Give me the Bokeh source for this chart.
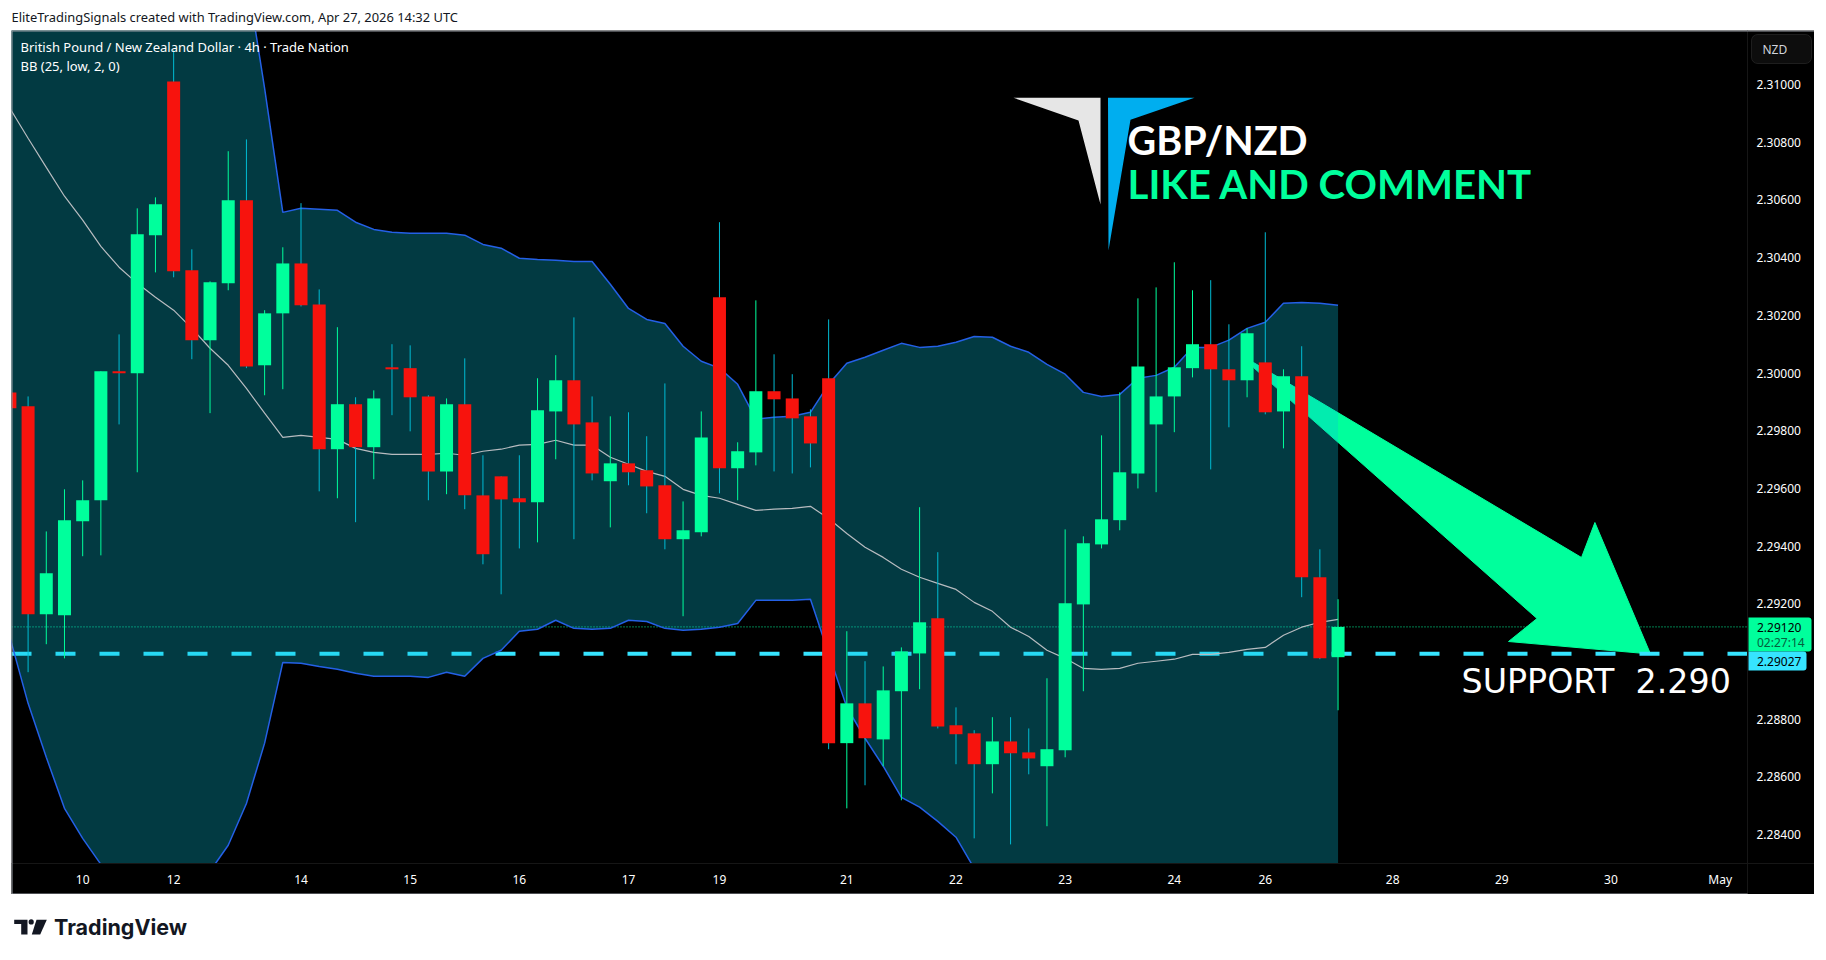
from bokeh.plotting import figure
from bokeh.layouts import column
from bokeh.models import BoxAnnotation, Label, FixedTicker, ColumnDataSource, NumeralTickFormatter
from bokeh.embed import file_html
from bokeh.resources import INLINE

# ---------------- data ----------------
bar_open = [2.29933,2.29885,2.29164,2.29160,2.29486,2.29559,2.30006,2.29999,2.30478,2.31011,2.30356,2.30114,2.30311,2.30599,2.30027,2.30207,2.30380,2.30238,2.29736,2.29892,2.29743,2.30020,2.30017,2.29919,2.29659,2.29892,2.29576,2.29642,2.29566,2.29552,2.29867,2.29975,2.29829,2.29625,2.29687,2.29663,2.29611,2.29424,2.29448,2.30263,2.29670,2.29725,2.29937,2.29912,2.29850,2.29982,2.28717,2.28855,2.28730,2.28897,2.29028,2.29150,2.28779,2.28751,2.28644,2.28723,2.28685,2.28637,2.28692,2.29198,2.29406,2.29490,2.29652,2.29822,2.29919,2.30017,2.30100,2.30013,2.29975,2.30037,2.29867,2.29989,2.29292,2.29015]
bar_high = [2.29933,2.29919,2.29451,2.29597,2.29628,2.30006,2.30134,2.30571,2.30609,2.31119,2.30429,2.30318,2.30769,2.30810,2.30218,2.30436,2.30589,2.30290,2.30159,2.29916,2.29940,2.30100,2.30096,2.29923,2.29912,2.30051,2.29715,2.29642,2.29715,2.29982,2.30062,2.30193,2.29919,2.29850,2.29864,2.29781,2.29964,2.29555,2.29867,2.30523,2.29760,2.30252,2.30065,2.29996,2.29874,2.30186,2.29105,2.29001,2.28983,2.29049,2.29535,2.29379,2.28841,2.28762,2.28807,2.28807,2.28768,2.28942,2.29458,2.29434,2.29784,2.29933,2.30259,2.30297,2.30384,2.30287,2.30322,2.30169,2.30155,2.30488,2.30013,2.30093,2.29389,2.29216]
bar_low = [2.29878,2.28963,2.29060,2.29011,2.29365,2.29368,2.29822,2.29656,2.30349,2.30332,2.30048,2.29861,2.30287,2.30017,2.29923,2.29944,2.30231,2.29590,2.29566,2.29483,2.29632,2.29854,2.29798,2.29559,2.29580,2.29528,2.29337,2.29233,2.29392,2.29413,2.29701,2.29424,2.29628,2.29465,2.29611,2.29514,2.29389,2.29157,2.29434,2.29583,2.29559,2.29680,2.29659,2.29652,2.29673,2.28696,2.28491,2.28571,2.28637,2.28519,2.28904,2.28768,2.28644,2.28387,2.28543,2.28366,2.28609,2.28429,2.28668,2.28897,2.29392,2.29455,2.29600,2.29587,2.29795,2.29985,2.29666,2.29812,2.29916,2.29857,2.29739,2.29223,2.29008,2.28831]
bar_close = [2.29878,2.29164,2.29306,2.29490,2.29559,2.30006,2.29999,2.30481,2.30585,2.30353,2.30114,2.30315,2.30599,2.30023,2.30207,2.30380,2.30235,2.29736,2.29892,2.29743,2.29912,2.30013,2.29916,2.29659,2.29892,2.29576,2.29372,2.29562,2.29552,2.29871,2.29975,2.29822,2.29652,2.29687,2.29656,2.29607,2.29424,2.29455,2.29777,2.29670,2.29729,2.29937,2.29909,2.29843,2.29756,2.28717,2.28855,2.28734,2.28900,2.29035,2.29136,2.28775,2.28748,2.28644,2.28723,2.28682,2.28664,2.28696,2.29202,2.29410,2.29493,2.29656,2.30023,2.29919,2.30020,2.30100,2.30013,2.29975,2.30138,2.29864,2.29989,2.29292,2.29011,2.29120]

bb_upper = [2.32752,2.32773,2.32759,2.32762,2.32672,2.32610,2.32509,2.32433,2.32353,2.32256,2.32097,2.31899,2.31691,2.31386,2.30987,2.30557,2.30571,2.30568,2.30564,2.30523,2.30498,2.30488,2.30485,2.30485,2.30485,2.30478,2.30446,2.30433,2.30398,2.30394,2.30391,2.30387,2.30387,2.30308,2.30224,2.30186,2.30172,2.30093,2.30041,2.30017,2.29961,2.29840,2.29847,2.29850,2.29864,2.29961,2.30034,2.30055,2.30079,2.30103,2.30089,2.30093,2.30107,2.30127,2.30124,2.30093,2.30072,2.30030,2.29996,2.29933,2.29919,2.29926,2.29982,2.29992,2.30020,2.30089,2.30089,2.30114,2.30155,2.30176,2.30242,2.30245,2.30242,2.30235]
bb_basis = [2.30918,2.30814,2.30713,2.30613,2.30530,2.30439,2.30367,2.30311,2.30263,2.30218,2.30155,2.30086,2.30027,2.29947,2.29861,2.29777,2.29784,2.29777,2.29770,2.29739,2.29725,2.29718,2.29718,2.29718,2.29722,2.29715,2.29729,2.29736,2.29750,2.29753,2.29767,2.29750,2.29750,2.29708,2.29684,2.29659,2.29642,2.29597,2.29576,2.29566,2.29545,2.29524,2.29528,2.29531,2.29538,2.29496,2.29444,2.29396,2.29361,2.29320,2.29292,2.29271,2.29250,2.29205,2.29174,2.29119,2.29087,2.29039,2.29011,2.28976,2.28973,2.28976,2.28994,2.29001,2.29008,2.29025,2.29025,2.29032,2.29042,2.29049,2.29091,2.29119,2.29136,2.29146]
bb_lower = [2.29084,2.28855,2.28668,2.28491,2.28387,2.28297,2.28224,2.28190,2.28172,2.28179,2.28214,2.28273,2.28363,2.28508,2.28717,2.28997,2.28994,2.28983,2.28973,2.28959,2.28949,2.28949,2.28949,2.28945,2.28963,2.28949,2.29011,2.29039,2.29105,2.29112,2.29143,2.29115,2.29112,2.29115,2.29143,2.29139,2.29115,2.29108,2.29112,2.29119,2.29132,2.29212,2.29212,2.29212,2.29216,2.29028,2.28841,2.28734,2.28637,2.28529,2.28495,2.28446,2.28391,2.28283,2.28224,2.28144,2.28103,2.28047,2.28027,2.28020,2.28027,2.28023,2.28006,2.28009,2.27995,2.27961,2.27961,2.27950,2.27930,2.27923,2.27940,2.27992,2.28030,2.28058]

last_price = 2.29120
support_price = 2.29027
price_ticks = [2.284,2.286,2.288,2.292,2.294,2.296,2.298,2.300,2.302,2.304,2.306,2.308,2.310]
day_tick_bars = [4,9,16,22,28,34,39,46,52,58,64,69,76,82,88,94]
day_tick_labels = ["10","12","14","15","16","17","19","21","22","23","24","26","28","29","30","May"]

# ---------------- styling ----------------
UP = "#00ff9c"; DOWN = "#f7130d"; WICK_DOWN = "#00bcd4"
FONT = "Noto Sans"
FIG_X, FIG_Y = 11, 30      # page position of the main figure
BAR_X0, BAR_STEP = 9.4, 18.194
PX_PER_PRICE = 28846.0

def dx(px):   # page pixel -> bar index (for drawn annotations)
    return (px - BAR_X0) / BAR_STEP
def dy(py):
    return 2.31 - (py - 84.1) / PX_PER_PRICE

bars = list(range(len(bar_open)))
up = [c >= o for o, c in zip(bar_open, bar_close)]
src = ColumnDataSource(dict(
    x=bars, top=[max(o, c) for o, c in zip(bar_open, bar_close)],
    bottom=[min(o, c) for o, c in zip(bar_open, bar_close)],
    high=bar_high, low=bar_low,
    fill=[UP if u else DOWN for u in up],
    wick=[UP if u else WICK_DOWN for u in up]))

x_start, x_axis_at, x_end = dx(11), dx(1747), dx(1814)
p = figure(width=1803, height=864, output_backend="svg", toolbar_location=None,
           x_range=(x_start, x_end), y_range=(dy(894), dy(30)),
           background_fill_color="#000000", border_fill_color="#000000",
           min_border=0, x_axis_location="below", y_axis_location="right")
p.margin = (0, 0, 0, 3)
p.grid.visible = False
p.outline_line_color = None

xa = p.xaxis[0]
xa.fixed_location = dy(863)
xa.ticker = FixedTicker(ticks=day_tick_bars)
xa.major_label_overrides = dict(zip(day_tick_bars, day_tick_labels))
xa.major_label_text_color = "#ffffff"
xa.major_label_text_font = FONT
xa.major_label_text_font_size = "12px"
xa.major_tick_line_color = None
xa.minor_tick_line_color = None
xa.axis_line_color = "#161616"
xa.major_label_standoff = 1

ya = p.yaxis[0]
ya.fixed_location = x_axis_at
ya.ticker = FixedTicker(ticks=price_ticks)
ya.formatter = NumeralTickFormatter(format="0.00000")
ya.major_label_text_color = "#ffffff"
ya.major_label_text_font = FONT
ya.major_label_text_font_size = "12px"
ya.major_tick_line_color = None
ya.minor_tick_line_color = None
ya.axis_line_color = "#161616"
ya.major_label_standoff = 3

# drawing underneath the band (the band tints it)
arrow_x = [1253, 1581, 1594.4, 1650, 1508, 1536.5, 1253]
arrow_y = [362, 557, 522, 653.5, 641, 618, 367]
p.patch([dx(v) for v in arrow_x], [dy(v) for v in arrow_y], fill_color=UP, line_color=UP, line_width=1)
p.line([x_start, x_axis_at], [support_price, support_price], line_color="#36e4ff", line_width=4, line_dash="20 24")
p.line([x_start, x_axis_at], [last_price, last_price], line_color=UP, line_width=1, line_dash="1 2")

# Bollinger bands
p.varea(bars, y1=bb_upper, y2=bb_lower, fill_color="#07c1dc", fill_alpha=0.30)
p.line(bars, bb_upper, line_color="#2460e6", line_width=1.5)
p.line(bars, bb_lower, line_color="#2460e6", line_width=1.5)
p.line(bars, bb_basis, line_color="#b8bcc0", line_width=1.2)

# candles
p.segment("x", "high", "x", "low", source=src, line_color="wick", line_width=1)
p.vbar("x", width=13 / BAR_STEP, top="top", bottom="bottom", source=src, fill_color="fill", line_color=None)

# time-axis strip hides whatever runs below the pane
p.quad(left=[x_start], right=[x_end], top=[dy(863)], bottom=[dy(894)], fill_color="#000000", line_color=None)

# brand mark
grey_x, grey_y = [1013, 1100, 1100, 1078], [97.3, 97.3, 204, 120]
blue_x, blue_y = [1107.5, 1194, 1130, 1108], [97.3, 97.3, 119.3, 250]
p.patch([dx(v) for v in grey_x], [dy(v) for v in grey_y], fill_color="#e6e6e6", line_color=None)
p.patch([dx(v) for v in blue_x], [dy(v) for v in blue_y], fill_color="#00aeef", line_color=None)

def cx(px): return px - FIG_X
def cy(py): return py - FIG_Y

def text(fig, s, px, py, size, color="#ffffff", font=FONT, style="normal", align="left", ox=FIG_X, oy=FIG_Y):
    fig.add_layout(Label(x=px - ox, y=py - oy, x_units="canvas", y_units="canvas", text=s,
                         text_color=color, text_font=font, text_font_size=f"{size}px",
                         text_font_style=style, text_align=align, text_baseline="middle"))

def box(fig, l, r, t, b, color, radius=0, line=None):
    fig.add_layout(BoxAnnotation(left=cx(l), right=cx(r), top=cy(t), bottom=cy(b),
                                 left_units="canvas", right_units="canvas", top_units="canvas", bottom_units="canvas",
                                 fill_color=color, fill_alpha=1.0, line_color=line, border_radius=radius))

text(p, "British Pound / New Zealand Dollar \u00b7 4h \u00b7 Trade Nation", 20, 46.7, 13)
text(p, "BB (25, low, 2, 0)", 20, 65.7, 13)
text(p, "GBP/NZD", 1127, 139, 39.5, font="Lato", style="bold")
text(p, "LIKE AND COMMENT", 1127, 183, 40.2, color=UP, font="Lato", style="bold")
text(p, "SUPPORT\u00a0\u00a02.290", 1461, 681, 33.3, font="DejaVu Sans")

# price-axis tags
box(p, 1751, 1811, 34, 63, "#0d0d0d", radius=6, line="#555555")
text(p, "NZD", 1762, 49, 12, color="#d1d4dc")
box(p, 1748, 1811, 617, 651, UP, radius=(0, 3, 3, 0))
text(p, "2.29120", 1756.5, 626.7, 12, color="#000000")
text(p, "02:27:14", 1756.5, 641.7, 12, color="#05603c")
box(p, 1748, 1806, 651, 670, "#36e4ff", radius=(0, 3, 3, 0))
text(p, "2.29027", 1756.5, 660.7, 12, color="#000000")

# frame rules
box(p, 11, 12, 30, 894, "#9a9ea6")
box(p, 11, 1814, 30, 31, "#9a9ea6")
box(p, 11, 1747, 893, 894, "#9a9ea6")

# header
head = figure(width=1806, height=22, output_backend="svg", toolbar_location=None,
              x_range=(0, 1), y_range=(0, 1), min_border=0, outline_line_color=None,
              background_fill_color="#ffffff", border_fill_color="#ffffff")
head.axis.visible = False
head.grid.visible = False
text(head, "EliteTradingSignals created with TradingView.com, Apr 27, 2026 14:32 UTC", 11, 16.5, 12.9,
     color="#131722", ox=8, oy=8)

# footer
foot = figure(width=1806, height=58, output_backend="svg", toolbar_location=None,
              x_range=(8, 1814), y_range=(952, 894), min_border=0, outline_line_color=None,
              background_fill_color="#ffffff", border_fill_color="#ffffff")
foot.axis.visible = False
foot.grid.visible = False
INK = "#131722"
foot.patch([13.7, 27, 27, 20.7, 20.7, 13.7], [919.3, 919.3, 934, 934, 923.6, 923.6], fill_color=INK, line_color=None)
foot.scatter([30.7], [921.4], size=5.2, marker="circle", fill_color=INK, line_color=None)
foot.patch([36, 46.3, 39.7, 31.3], [919.3, 919.3, 934, 934], fill_color=INK, line_color=None)
text(foot, "TradingView", 53.5, 926.5, 21.5, color=INK, font="Inter", style="bold", ox=8, oy=894)

page = column(head, p, foot, spacing=0, margin=(8, 0, 0, 8))
open("out.html", "w").write(file_html(page, INLINE))
